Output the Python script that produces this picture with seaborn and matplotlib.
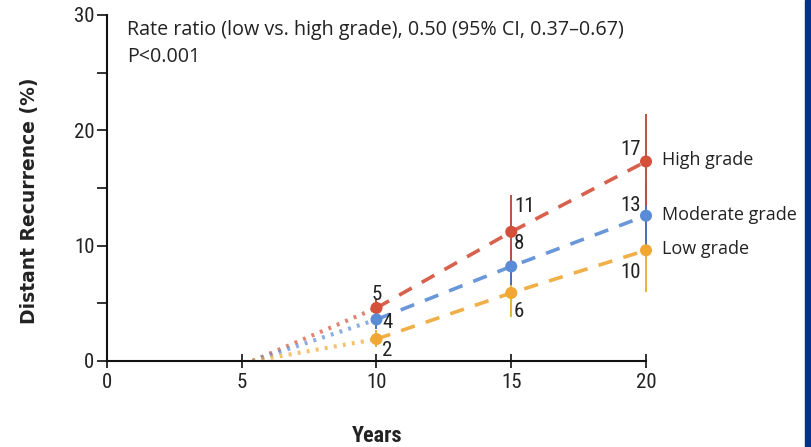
import matplotlib
matplotlib.use("Agg")
import matplotlib.pyplot as plt
from matplotlib.ticker import MultipleLocator
import seaborn as sns
import pandas as pd

# Cumulative distant recurrence by tumour grade
grades = ["High grade", "Moderate grade", "Low grade"]
years = [10, 15, 20]
high = [4.6, 11.2, 17.3]
moderate = [3.6, 8.2, 12.6]
low = [1.9, 5.9, 9.6]
high_ci_lo = [3.8, 8.6, 13.4]
high_ci_hi = [5.4, 14.4, 21.4]
moderate_ci_lo = [2.8, 6.6, 9.8]
moderate_ci_hi = [4.5, 10.0, 15.5]
low_ci_lo = [1.2, 3.8, 6.0]
low_ci_hi = [2.7, 8.0, 12.5]
onset_year = 5.4
onset_value = 0.0

x_ticks = [0, 5, 10, 15, 20]
y_ticks = [0, 10, 20, 30]
x_label = "Years"
y_label = "Distant Recurrence (%)"
note_lines = ["Rate ratio (low vs. high grade), 0.50 (95% CI, 0.37\u20130.67)", "P<0.001"]

colors = {"High grade": "#d4503a", "Moderate grade": "#5a8bd6", "Low grade": "#f0a733"}
bar_colors = {"High grade": "#b8543f", "Moderate grade": "#4c6fb8", "Low grade": "#e6b43c"}

values = {"High grade": high, "Moderate grade": moderate, "Low grade": low}
ci_lo = {"High grade": high_ci_lo, "Moderate grade": moderate_ci_lo, "Low grade": low_ci_lo}
ci_hi = {"High grade": high_ci_hi, "Moderate grade": moderate_ci_hi, "Low grade": low_ci_hi}

rows = []
for g in grades:
    for yr, v in zip(years, values[g]):
        rows.append({"grade": g, "year": yr, "value": v})
df = pd.DataFrame(rows)

sns.set_theme(style="white")
digits_font = ["Roboto Condensed", "Lato", "DejaVu Sans"]
text_font = ["Open Sans", "Lato", "DejaVu Sans"]
plt.rcParams["font.family"] = digits_font

fig = plt.figure(figsize=(8.11, 4.47), dpi=100)
ax = fig.add_axes([107 / 811, 1 - 361 / 447, (646 - 107) / 811, (361 - 15) / 447])

# dotted extrapolation back to the onset, then dashed observed segments
for g in grades:
    seg = pd.DataFrame({"year": [onset_year, years[0]], "value": [onset_value, values[g][0]]})
    sns.lineplot(data=seg, x="year", y="value", ax=ax, color=colors[g], lw=3.0,
                 linestyle=(0, (0.7, 1.5)), alpha=0.7)
for g in grades:
    sub = df[df.grade == g]
    sns.lineplot(data=sub, x="year", y="value", ax=ax, color=colors[g], lw=2.6,
                 linestyle=(0, (4.0, 3.2)), alpha=0.9)

# confidence intervals
for g in ["Low grade", "Moderate grade", "High grade"]:
    ax.vlines(years, ci_lo[g], ci_hi[g], color=bar_colors[g], lw=1.4, zorder=3, clip_on=False)

sns.scatterplot(data=df, x="year", y="value", hue="grade", palette=colors, ax=ax,
                s=75, edgecolor="none", legend=False, zorder=4, clip_on=False)

# value labels
num_kw = dict(fontsize=15, color="#222222", va="center", family=digits_font)
label_pos = {
    "High grade": [(10, 5.75, "center"), (15.1, 13.4, "left"), (19.8, 18.3, "right")],
    "Moderate grade": [(10.2, 3.3, "left"), (15.1, 10.15, "left"), (19.8, 13.5, "right")],
    "Low grade": [(10.2, 0.9, "left"), (15.1, 4.3, "left"), (19.8, 7.7, "right")],
}
for g in grades:
    for (tx, ty, ha), v in zip(label_pos[g], values[g]):
        ax.text(tx, ty, f"{v:.0f}", ha=ha, **num_kw)

# series names beside the last point
name_y = {"High grade": 17.4, "Moderate grade": 12.7, "Low grade": 9.7}
for g in grades:
    ax.text(20.6, name_y[g], g, fontsize=13, color="#222222", ha="left", va="center",
            family=text_font, clip_on=False)

ax.text(0.74, 28.7, note_lines[0], fontsize=14.2, color="#222222", va="center", family=text_font)
ax.text(0.74, 26.4, note_lines[1], fontsize=14.2, color="#222222", va="center", family=text_font)

ax.set_xlim(0, 20)
ax.set_ylim(0, 30)
ax.set_xticks(x_ticks)
ax.set_yticks(y_ticks)
ax.yaxis.set_minor_locator(MultipleLocator(5))
ax.tick_params(axis="y", which="both", direction="out", length=7, width=1.3, left=True,
               labelsize=15, colors="#222222", pad=2)
ax.tick_params(axis="x", which="major", direction="inout", length=10, width=1.3, bottom=True,
               labelsize=15, colors="#222222", pad=4)
for side in ["top", "right"]:
    ax.spines[side].set_visible(False)
for side in ["left", "bottom"]:
    ax.spines[side].set_color("#111111")
    ax.spines[side].set_linewidth(1.5)
ax.set_facecolor("none")
ax.grid(False)

ax.set_xlabel("")
ax.set_ylabel("")
fig.text(377 / 811, 1 - 436 / 447, x_label, fontsize=16, fontweight="bold", color="#222222",
         ha="center", va="center", family=digits_font)
fig.text(30 / 811, 1 - 201 / 447, y_label, rotation=90, fontsize=13.5, fontweight="bold",
         color="#222222", ha="center", va="center", family=["DejaVu Sans"])

# navy edge band
fig.patches.append(plt.Rectangle((805 / 811, 0), 6 / 811, 1, transform=fig.transFigure,
                                 color="#06308f", zorder=0))

fig.savefig("out.png", dpi=100, facecolor="white")
